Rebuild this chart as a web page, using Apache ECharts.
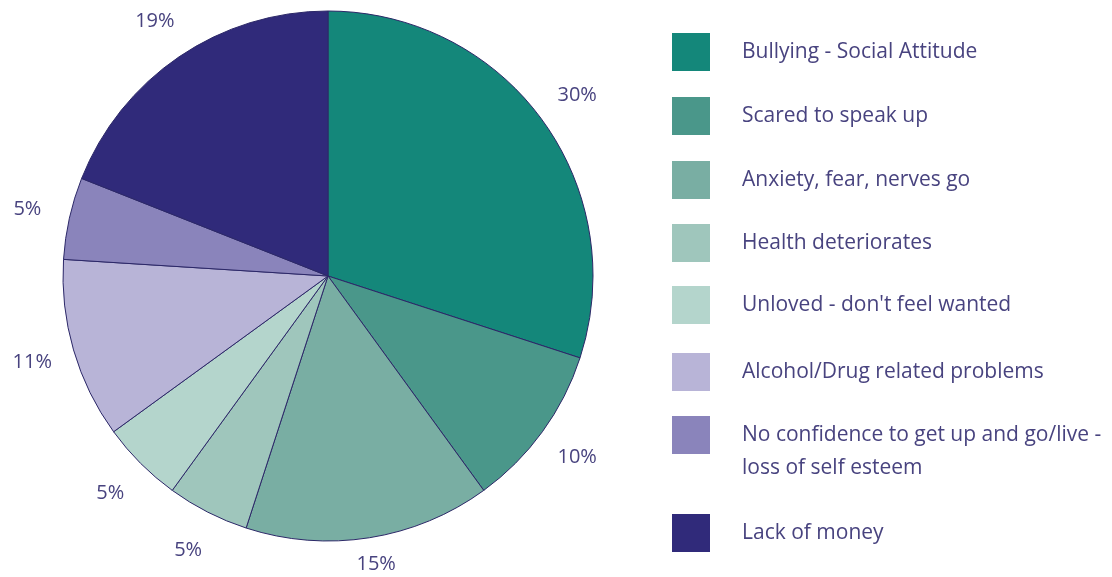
<!DOCTYPE html>
<html>
<head>
<meta charset="utf-8">
<script src="https://cdn.jsdelivr.net/npm/echarts@6/dist/echarts.min.js"></script>
<style>
  html, body { margin: 0; padding: 0; background: #ffffff; }
  #chart { width: 1112px; height: 577px; }
</style>
</head>
<body>
<div id="chart"></div>
<script>
// Reasons given, share of responses (%)
const categories = [
  'Bullying - Social Attitude',
  'Scared to speak up',
  'Anxiety, fear, nerves go',
  'Health deteriorates',
  "Unloved - don't feel wanted",
  'Alcohol/Drug related problems',
  'No confidence to get up and go/live -\nloss of self esteem',
  'Lack of money'
];
const values = [30, 10, 15, 5, 5, 11, 5, 19];
const colors = ['#14877a', '#4a978a', '#79aea3', '#9fc6bc', '#b4d5cc', '#b8b4d7', '#8a84bb', '#302a7a'];

const FONT = 'Open Sans';
const TEXT_COLOR = '#48437f';
const FONT_SIZE = 21;

const W = 577; // canvas height, used to keep labels on screen
const cx = 328, cy = 276, R = 265;

const pieData = categories.map((name, i) => ({
  name: name,
  value: values[i],
  itemStyle: { color: colors[i] }
}));

// Legend rows: swatch + text, top offsets of each swatch
const legendLeft = 672, swatch = 38, textLeft = 742;
const rowTops = [33, 97, 161, 224, 286, 353, 416, 514];
const legendGraphics = categories.map((name, i) => ({
  type: 'group',
  x: legendLeft,
  y: rowTops[i],
  children: [
    { type: 'rect', shape: { x: 0, y: 0, width: swatch, height: swatch }, style: { fill: colors[i] } },
    {
      type: 'text',
      x: textLeft - legendLeft,
      y: swatch / 2 - 16.5,
      style: {
        text: name,
        font: FONT_SIZE + 'px "' + FONT + '"',
        fill: TEXT_COLOR,
        lineHeight: 33,
        verticalAlign: 'top',
        align: 'left'
      }
    }
  ]
}));

const chart = echarts.init(document.getElementById('chart'), null, { renderer: 'canvas' });
chart.setOption({
  backgroundColor: '#ffffff',
  animation: false,
  graphic: legendGraphics,
  series: [
    {
      type: 'pie',
      center: [cx, cy],
      radius: [0, R],
      startAngle: 90,
      clockwise: true,
      silent: true,
      label: { show: false },
      labelLine: { show: false },
      itemStyle: { borderColor: '#2c2868', borderWidth: 1 },
      data: pieData
    },
    {
      // percentage labels on an invisible ring just outside the pie
      type: 'pie',
      center: [cx, cy],
      radius: [R + 26, R + 54],
      startAngle: 90,
      clockwise: true,
      silent: true,
      itemStyle: { color: 'rgba(0,0,0,0)', borderWidth: 0 },
      label: {
        show: true,
        position: 'inside',
        formatter: '{c}%',
        fontFamily: FONT,
        fontSize: FONT_SIZE - 1,
        color: TEXT_COLOR
      },
      labelLine: { show: false },
      // keep labels inside the canvas
      labelLayout: function (params) {
        const r = params.labelRect;
        const limit = W - 3;
        if (r.y + r.height > limit) {
          return { y: limit - r.height / 2 };
        }
        return {};
      },
      data: categories.map((name, i) => ({ name: name, value: values[i] }))
    }
  ]
});
</script>
</body>
</html>
